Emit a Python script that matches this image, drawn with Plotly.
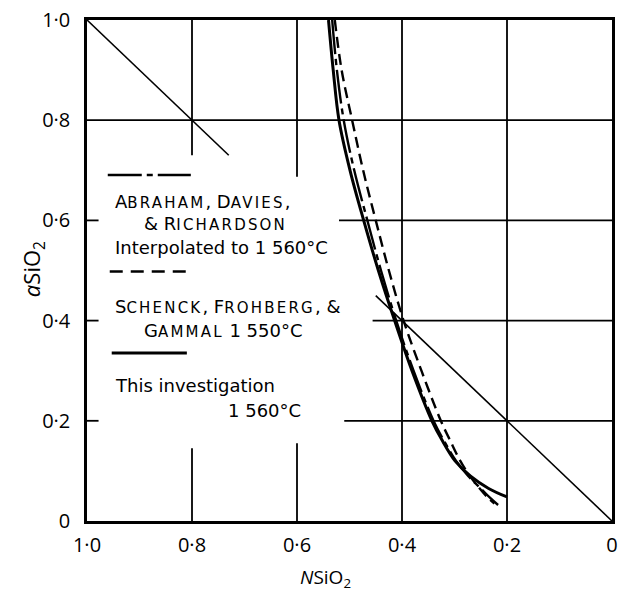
import plotly.graph_objects as go

# ---------------- data ----------------
x_tickvals = [1.0, 0.8, 0.6, 0.4, 0.2, 0.0]
x_ticktext = ["1·0", "0·8", "0·6", "0·4", "0·2", "0"]
y_tickvals = [0.0, 0.2, 0.4, 0.6, 0.8, 1.0]
y_ticktext = ["0", "0·2", "0·4", "0·6", "0·8", "1·0"]

# This investigation, 1 560 °C (thick solid)
this_x = [0.540, 0.531, 0.520, 0.499, 0.473, 0.445, 0.414, 0.381, 0.343, 0.323, 0.299, 0.270, 0.235, 0.200]
this_y = [1.000, 0.900, 0.800, 0.700, 0.600, 0.500, 0.400, 0.300, 0.200, 0.160, 0.120, 0.090, 0.065, 0.048]

# Abraham, Davies & Richardson, interpolated to 1 560 °C (dash-dot)
adr_x = [0.533, 0.524, 0.511, 0.491, 0.466, 0.440, 0.411, 0.378, 0.340, 0.320, 0.297, 0.274, 0.250, 0.231, 0.217]
adr_y = [1.000, 0.900, 0.800, 0.700, 0.600, 0.500, 0.400, 0.300, 0.200, 0.160, 0.120, 0.090, 0.065, 0.045, 0.032]

# Schenck, Frohberg & Gammal, 1 550 °C (dashed)
sfg_x = [0.528, 0.515, 0.495, 0.474, 0.450, 0.425, 0.397, 0.363, 0.326, 0.308, 0.289, 0.271, 0.252, 0.235, 0.224]
sfg_y = [1.000, 0.900, 0.800, 0.700, 0.600, 0.500, 0.400, 0.300, 0.200, 0.160, 0.120, 0.090, 0.065, 0.045, 0.035]

# Raoult (ideal) line segments
raoult_upper_x = [1.0, 0.73]
raoult_upper_y = [1.0, 0.73]
raoult_lower_x = [0.45, 0.0]
raoult_lower_y = [0.45, 0.0]

# ---------------- figure ----------------
FONT = "Open Sans"
KEYFONT = "DejaVu Sans"
W, H = 624, 592
L, R, T, B = 87, 6, 17, 71
PW, PH = W - L - R, H - T - B


def px_x(px):
    return (px - L) / PW


def px_y(py):
    return (H - B - py) / PH


fig = go.Figure()

dashdot = "34px,5px,6px,5px"
dashed = "11px,6px"

fig.add_trace(go.Scatter(x=raoult_upper_x, y=raoult_upper_y, mode="lines",
                         line=dict(color="black", width=1.6), showlegend=False, hoverinfo="skip"))
fig.add_trace(go.Scatter(x=raoult_lower_x, y=raoult_lower_y, mode="lines",
                         line=dict(color="black", width=1.6), showlegend=False, hoverinfo="skip"))
fig.add_trace(go.Scatter(x=adr_x, y=adr_y, mode="lines", line_shape="spline",
                         line=dict(color="black", width=2.4, dash=dashdot), showlegend=False))
fig.add_trace(go.Scatter(x=sfg_x, y=sfg_y, mode="lines", line_shape="spline",
                         line=dict(color="black", width=2.4, dash=dashed), showlegend=False))
fig.add_trace(go.Scatter(x=this_x, y=this_y, mode="lines", line_shape="spline",
                         line=dict(color="black", width=3), showlegend=False))

# grid segments (interrupted where the key is written)
grid = [
    (1.0, 0.8, 0.0, 0.8),
    (0.52, 0.6, 0.0, 0.6), (1.0, 0.6, 0.978, 0.6),
    (0.456, 0.4, 0.0, 0.4), (1.0, 0.4, 0.978, 0.4),
    (0.51, 0.2, 0.0, 0.2), (1.0, 0.2, 0.978, 0.2),
    (0.8, 1.0, 0.8, 0.73), (0.8, 0.145, 0.8, 0.0),
    (0.6, 1.0, 0.6, 0.687), (0.6, 0.155, 0.6, 0.0),
    (0.4, 1.0, 0.4, 0.0),
    (0.2, 1.0, 0.2, 0.0),
]
shapes = []
for x0, y0, x1, y1 in grid:
    shapes.append(dict(type="line", xref="x", yref="y", x0=x0, y0=y0, x1=x1, y1=y1,
                       line=dict(color="black", width=1.8), layer="below"))

# key samples
shapes.append(dict(type="line", xref="paper", yref="paper", x0=px_x(108), x1=px_x(192),
                   y0=px_y(173), y1=px_y(173), line=dict(color="black", width=2.6, dash=dashdot)))
shapes.append(dict(type="line", xref="paper", yref="paper", x0=px_x(110), x1=px_x(190),
                   y0=px_y(270), y1=px_y(270), line=dict(color="black", width=2.6, dash="13px,8px")))
shapes.append(dict(type="line", xref="paper", yref="paper", x0=px_x(112), x1=px_x(188),
                   y0=px_y(352), y1=px_y(352), line=dict(color="black", width=3.2)))


def sc(word, small=15):
    return word[0] + "<span style='font-size:%dpx;letter-spacing:2.2px'>%s</span>" % (small, word[1:].upper())


key_lines = [
    (113, 200, sc("Abraham") + ", " + sc("Davies") + ","),
    (143, 222, "& " + sc("Richardson")),
    (113, 246, "Interpolated to 1 560°C"),
    (113, 305, sc("Schenck") + ", " + sc("Frohberg") + ", &"),
    (143, 329, sc("Gammal") + " 1 550°C"),
    (113, 385, "This investigation"),
    (228, 410, "1 560°C"),
]
annotations = []
for x, y, t in key_lines:
    annotations.append(dict(x=px_x(x), y=px_y(y), xref="paper", yref="paper", text=t,
                            showarrow=False, xanchor="left", yanchor="middle",
                            font=dict(family=KEYFONT, size=18, color="black")))

# axis titles
annotations.append(dict(x=px_x(328), y=px_y(578), xref="paper", yref="paper",
                        text="<i>N</i>SiO<sub>2</sub>", showarrow=False,
                        xanchor="center", yanchor="middle",
                        font=dict(family=FONT, size=19, color="black")))
annotations.append(dict(x=px_x(32), y=px_y(268), xref="paper", yref="paper",
                        text="<i>a</i>SiO<sub>2</sub>", showarrow=False, textangle=-90,
                        xanchor="center", yanchor="middle",
                        font=dict(family=FONT, size=22, color="black")))

fig.update_layout(
    width=W, height=H,
    margin=dict(l=L, r=R, t=T, b=B),
    paper_bgcolor="white", plot_bgcolor="white",
    font=dict(family=FONT, color="black"),
    shapes=shapes, annotations=annotations,
    showlegend=False,
)
fig.update_xaxes(range=[1.0, 0.0], tickvals=x_tickvals, ticktext=x_ticktext,
                 showgrid=False, zeroline=False, showline=True, mirror=True,
                 linecolor="black", linewidth=2.5, ticks="", ticklabelstandoff=4,
                 tickfont=dict(family=FONT, size=20, color="black"))
fig.update_yaxes(range=[0.0, 1.0], tickvals=y_tickvals, ticktext=y_ticktext,
                 showgrid=False, zeroline=False, showline=True, mirror=True,
                 linecolor="black", linewidth=2.5, ticks="", ticklabelstandoff=10,
                 tickfont=dict(family=FONT, size=20, color="black"))

fig.write_html("out.html")
